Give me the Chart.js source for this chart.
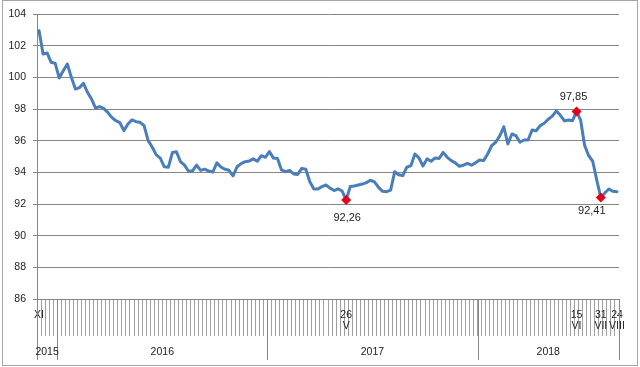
<!DOCTYPE html>
<html><head><meta charset="utf-8">
<script src="https://cdn.jsdelivr.net/npm/chart.js@4/dist/chart.umd.min.js"></script>
<style>html,body{margin:0;padding:0;background:#fff}#wrap{width:640px;height:367px;position:relative}</style>
</head><body><div id="wrap"><canvas id="c" width="640" height="367"></canvas></div>
<script>
// weekly index values, XI 2015 – 24 VIII 2018
const values = [
  102.95, 101.47, 101.54, 100.95, 100.88, 99.96, 100.42, 100.84, 100.0, 99.26,
  99.35, 99.62, 99.05, 98.63, 98.06, 98.15, 98.04, 97.79, 97.47, 97.26,
  97.14, 96.63, 97.05, 97.31, 97.2, 97.16, 96.95, 96.0, 95.6, 95.1,
  94.9, 94.35, 94.32, 95.25, 95.3, 94.67, 94.45, 94.07, 94.1, 94.45,
  94.12, 94.2, 94.08, 94.02, 94.6, 94.34, 94.19, 94.13, 93.78, 94.35,
  94.55, 94.67, 94.71, 94.85, 94.7, 95.05, 94.95, 95.31, 94.9, 94.88,
  94.15, 94.04, 94.12, 93.9, 93.87, 94.25, 94.19, 93.41, 92.95, 92.95,
  93.1, 93.2, 93.0, 92.85, 92.95, 92.82, 92.26, 93.1, 93.14, 93.2,
  93.26, 93.35, 93.5, 93.4, 93.05, 92.8, 92.78, 92.88, 94.04, 93.85,
  93.79, 94.32, 94.42, 95.16, 94.91, 94.4, 94.85, 94.7, 94.91, 94.88,
  95.26, 94.95, 94.74, 94.6, 94.38, 94.45, 94.57, 94.45, 94.6, 94.78,
  94.74, 95.16, 95.68, 95.9, 96.3, 96.88, 95.79, 96.42, 96.32, 95.9,
  96.04, 96.04, 96.67, 96.63, 96.95, 97.1, 97.35, 97.55, 97.88, 97.6,
  97.25, 97.31, 97.26, 97.85, 97.3, 95.7, 95.05, 94.7, 93.5, 92.41,
  92.7, 92.95, 92.8, 92.78
];
const years = ['2015', '2016', '2017', '2018'];
const yearWeeks = [5, 52, 52, 35];
const dayTickIdx = [0, 76, 133, 139, 143];
const dayTickText = [['XI'], ['26', 'V'], ['15', 'VI'], ['31', 'VII'], ['24', 'VIII']];
const highlightIdx = [76, 133, 139];
const highlightText = ['92,26', '97,85', '92,41'];
const yMin = 86, yMax = 104, yStep = 2;

// style
const FONT = '"Liberation Sans", Arial, sans-serif';
const TXT = '#222';
const GRID = '#868686';
const annOffset = [[1, 18], [-3, -14], [-9, 13]];

const labels = values.map(() => '');
dayTickIdx.forEach((ix, k) => { labels[ix] = dayTickText[k]; });

const decor = {
  id: 'decor',
  beforeDraw(chart) {
    const ctx = chart.ctx;
    ctx.save(); ctx.fillStyle = '#fff'; ctx.fillRect(0, 0, chart.width, chart.height); ctx.restore();
  },
  afterDraw(chart) {
    const ctx = chart.ctx, xs = chart.scales.x, ca = chart.chartArea;
    const half = (xs.getPixelForValue(1) - xs.getPixelForValue(0)) / 2;
    ctx.save();
    ctx.strokeStyle = GRID; ctx.lineWidth = 1;
    const bounds = []; let s = 0;
    yearWeeks.forEach(n => { bounds.push(s); s += n; });
    const bx = bounds.map(b => xs.getPixelForValue(b) - half);
    bx.push(xs.getPixelForValue(values.length - 1) + half);
    bx.forEach(x => {
      const px = Math.round(x) + 0.5;
      ctx.beginPath(); ctx.moveTo(px, ca.bottom); ctx.lineTo(px, 360); ctx.stroke();
    });
    ctx.fillStyle = TXT; ctx.font = '10.5px ' + FONT;
    ctx.textAlign = 'center'; ctx.textBaseline = 'middle';
    years.forEach((y, k) => ctx.fillText(y, (bx[k] + bx[k + 1]) / 2, 352));
    // value annotations
    const meta = chart.getDatasetMeta(0);
    ctx.font = '11px ' + FONT;
    highlightIdx.forEach((ix, k) => {
      const p = meta.data[ix];
      ctx.fillText(highlightText[k], p.x + annOffset[k][0], p.y + annOffset[k][1]);
    });
    // chart frame
    ctx.strokeStyle = '#a6a6a6';
    ctx.strokeRect(2.5, 0.5, 635, 365);
    ctx.restore();
  }
};

new Chart(document.getElementById('c'), {
  type: 'line',
  data: {
    labels: labels,
    datasets: [{
      data: values,
      borderColor: '#4a7ebb',
      borderWidth: 3,
      tension: 0,
      borderJoinStyle: 'round',
      borderCapStyle: 'round',
      pointRadius: (c) => highlightIdx.includes(c.dataIndex) ? 5 : 0,
      pointStyle: 'rectRot',
      pointBackgroundColor: '#e2001a',
      pointBorderColor: '#e2001a',
      pointBorderWidth: 0
    }]
  },
  options: {
    responsive: false, animation: false, devicePixelRatio: 1,
    layout: { padding: { top: 14, right: 21, bottom: 0, left: 0 } },
    plugins: { legend: { display: false }, tooltip: { enabled: false } },
    scales: {
      x: {
        type: 'category', offset: true,
        grid: { offset: true, drawOnChartArea: false, drawTicks: true, tickLength: 37, color: '#a0a0a0' },
        border: { display: true, color: GRID },
        ticks: { autoSkip: false, maxRotation: 0, minRotation: 0, padding: -26, color: TXT,
                 font: { family: FONT, size: 10.5, lineHeight: 1.0 } },
        afterFit: (sc) => { sc.height = 68; }
      },
      y: {
        min: yMin, max: yMax,
        ticks: { stepSize: yStep, padding: 7, color: TXT, font: { family: FONT, size: 10.5 } },
        grid: { color: GRID, tickLength: 4 },
        border: { display: true, color: GRID },
        afterFit: (sc) => { sc.width = 37; }
      }
    }
  },
  plugins: [decor]
});
</script></body></html>
